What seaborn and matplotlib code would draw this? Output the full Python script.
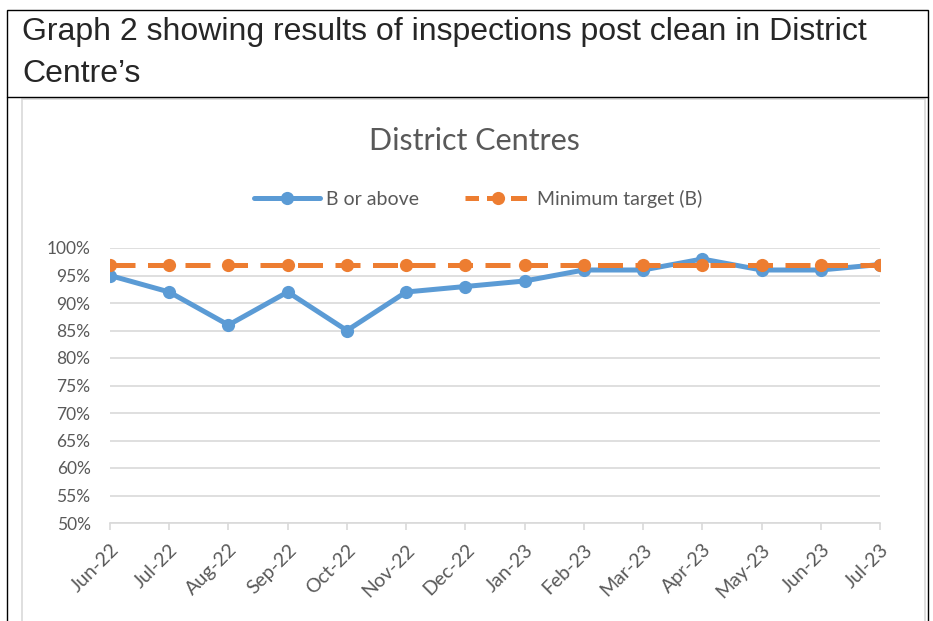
import pandas as pd
import matplotlib.pyplot as plt
import seaborn as sns
from matplotlib.lines import Line2D
from matplotlib.patches import Rectangle

months = ["Jun-22", "Jul-22", "Aug-22", "Sep-22", "Oct-22", "Nov-22", "Dec-22",
          "Jan-23", "Feb-23", "Mar-23", "Apr-23", "May-23", "Jun-23", "Jul-23"]
b_or_above = [0.95, 0.92, 0.86, 0.92, 0.85, 0.92, 0.93, 0.94, 0.96, 0.96, 0.98, 0.96, 0.96, 0.97]
min_target = [0.97] * 14
y_ticks = [0.50, 0.55, 0.60, 0.65, 0.70, 0.75, 0.80, 0.85, 0.90, 0.95, 1.00]

blue = "#5B9BD5"
orange = "#ED7D31"
grey_txt = "#595959"

df = pd.DataFrame({"Month": months, "B or above": b_or_above, "Minimum target (B)": min_target})

sns.set_style("white")
plt.rcParams["font.family"] = ["Lato", "DejaVu Sans"]

fig = plt.figure(figsize=(9.33, 6.21), dpi=100)
W, H = 933, 621

# document table borders around the chart
fig.add_artist(Rectangle((7 / W, -0.01), (928 - 7) / W, 1 - 10 / H + 0.01, transform=fig.transFigure,
                         fill=False, edgecolor="black", linewidth=1.0))
fig.add_artist(Line2D([7 / W, 928 / W], [1 - 97 / H, 1 - 97 / H], transform=fig.transFigure,
                      color="black", linewidth=1.0))
fig.add_artist(Rectangle((22 / W, -0.01), (925 - 22) / W, 1 - 99 / H + 0.01, transform=fig.transFigure,
                         fill=False, edgecolor="#D9D9D9", linewidth=1.2))
head_font = ["Liberation Sans", "DejaVu Sans"]
fig.text(22 / W, 1 - 40 / H, "Graph 2 showing results of inspections post clean in District",
         ha="left", va="baseline", fontsize=23, family=head_font)
fig.text(22 / W, 1 - 82 / H, "Centre\u2019s", ha="left", va="baseline", fontsize=23, family=head_font)

ax = fig.add_axes([110 / W, 1 - 523 / H, (880 - 110) / W, (523 - 248) / H])

sns.lineplot(data=df, x="Month", y="B or above", ax=ax, color=blue, linewidth=3.6,
             marker="o", markersize=9.5, markeredgewidth=0, label="B or above", sort=False)
sns.lineplot(data=df, x="Month", y="Minimum target (B)", ax=ax, color=orange, linewidth=3.6,
             linestyle=(0, (5, 2.5)), marker="o", markersize=9.5, markeredgewidth=0,
             label="Minimum target (B)", sort=False)

ax.set_ylim(0.5, 1.0)
ax.set_xlim(0, len(months) - 1)
ax.set_yticks(y_ticks)
ax.set_yticklabels([f"{int(round(v * 100))}%" for v in y_ticks])
ax.yaxis.grid(True, color="#D9D9D9", linewidth=1.2)
ax.set_axisbelow(True)
for s in ["top", "right", "left"]:
    ax.spines[s].set_visible(False)
ax.spines["bottom"].set_color("#D9D9D9")
ax.spines["bottom"].set_linewidth(1.2)
ax.spines["bottom"].set_zorder(0)
ax.set_xlabel("")
ax.set_ylabel("")
ax.tick_params(axis="y", length=0, pad=14, labelsize=12.5, labelcolor=grey_txt)
ax.tick_params(axis="x", length=5, width=1.2, color="#D9D9D9", pad=8, labelsize=14,
               labelcolor=grey_txt, bottom=True)
plt.setp(ax.get_xticklabels(), rotation=45, ha="right", rotation_mode="anchor")

# legend handles: the orange one needs shorter dashes to read as "- o -"
ax.get_legend().remove()
h_blue = Line2D([], [], color=blue, linewidth=3.6, marker="o", markersize=9.5, markeredgewidth=0)
h_orange = Line2D([], [], color=orange, linewidth=3.6, linestyle=(0.5, (3.2, 1.6)),
                  marker="o", markersize=9.5, markeredgewidth=0)
fig.legend([h_blue, h_orange], ["B or above", "Minimum target (B)"], loc="center",
           bbox_to_anchor=(478 / W, 1 - 199 / H), ncol=2, frameon=False, fontsize=14,
           labelcolor=grey_txt, handlelength=3.4, columnspacing=2.4, handletextpad=0.3)

fig.text(474 / W, 1 - 141 / H, "District Centres", ha="center", va="center",
         fontsize=22, color=grey_txt)

fig.savefig("out.png", dpi=100)
